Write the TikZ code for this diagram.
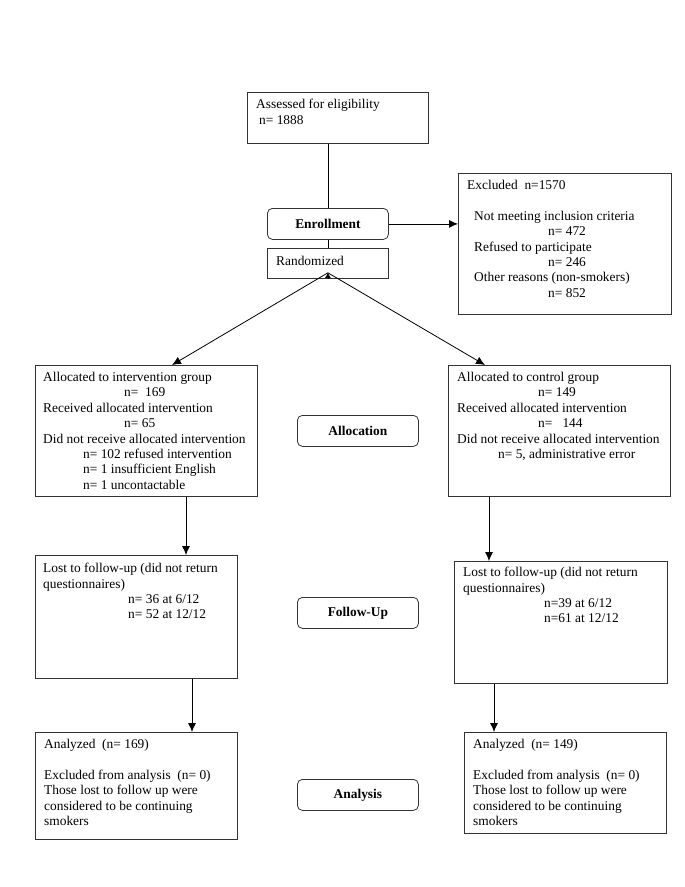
\documentclass[tikz,border=0pt]{standalone}
\usepackage{fontspec}
\setmainfont{Liberation Serif}
\usetikzlibrary{arrows.meta}
\tikzset{
  box/.style={draw=black!80, line width=0.8pt, rectangle, inner sep=0pt, anchor=north west},
  stagebox/.style={draw=black!80, line width=0.8pt, rectangle, rounded corners=5pt, inner sep=0pt, anchor=north west, minimum width=121pt, minimum height=31pt, font=\fontsize{13.4}{15.4}\selectfont\bfseries},
  txt/.style={inner sep=0pt, anchor=north west, align=left, font=\fontsize{13.4}{15.4}\selectfont},
  conn/.style={line width=0.8pt, black},
  arr/.style={conn, -{Latex[length=9pt,width=8pt]}},
}
\begin{document}
\begin{tikzpicture}[x=1pt,y=-1pt]
\useasboundingbox (0,0) rectangle (685,887);
\fill[white] (0,0) rectangle (685,887);

% boxes
\node[box, minimum width=181pt, minimum height=51pt] (assess) at (247,92) {};
\node[txt] (assesst) at (256,99) {Assessed for eligibility\\\hspace*{3pt}n= 1888};

\node[stagebox] (enroll) at (267,208) {Enrollment};
\node[box, minimum width=121pt, minimum height=30pt] (rand) at (267,248) {};
\node[txt] (randt) at (276,256) {Randomized};

\node[box, minimum width=213pt, minimum height=141pt] (excl) at (458,173) {};
\node[txt] (exclt) at (467,180) {Excluded~~n=1570\\[15.4pt]
\hspace*{7pt}Not meeting inclusion criteria\\
\hspace*{81pt}n= 472\\
\hspace*{7pt}Refused to participate\\
\hspace*{81pt}n= 246\\
\hspace*{7pt}Other reasons (non-smokers)\\
\hspace*{81pt}n= 852};

\node[box, minimum width=222pt, minimum height=131pt] (alloc1) at (35,365) {};
\node[txt] (alloc1t) at (43,372) {Allocated to intervention group\\
\hspace*{81pt}n=~~169\\
Received allocated intervention\\
\hspace*{81pt}n= 65\\
Did not receive allocated intervention\\
\hspace*{40pt}n= 102 refused intervention\\
\hspace*{40pt}n= 1 insufficient English\\
\hspace*{40pt}n= 1 uncontactable};

\node[box, minimum width=222pt, minimum height=131pt] (alloc2) at (448,365) {};
\node[txt] (alloc2t) at (457,372) {Allocated to control group\\
\hspace*{81pt}n= 149\\
Received allocated intervention\\
\hspace*{81pt}n=~~~144\\
Did not receive allocated intervention\\
\hspace*{41pt}n= 5, administrative error};

\node[stagebox] (allocs) at (297,415) {Allocation};

\node[box, minimum width=202pt, minimum height=123pt] (lost1) at (35,555) {};
\node[txt] (lost1t) at (43,563) {Lost to follow-up (did not return\\
questionnaires)\\
\hspace*{85pt}n= 36 at 6/12\\
\hspace*{85pt}n= 52 at 12/12};

\node[box, minimum width=213pt, minimum height=122pt] (lost2) at (454,561) {};
\node[txt] (lost2t) at (463,567) {Lost to follow-up (did not return\\
questionnaires)\\
\hspace*{81pt}n=39 at 6/12\\
\hspace*{81pt}n=61 at 12/12};

\node[stagebox] (follows) at (297,597) {Follow-Up};

\node[box, minimum width=202pt, minimum height=107pt] (ana1) at (35,732) {};
\node[txt] (ana1t) at (44,739) {Analyzed~~(n= 169)\\[15.4pt]
Excluded from analysis~~(n= 0)\\
Those lost to follow up were\\
considered to be continuing\\
smokers};

\node[box, minimum width=202pt, minimum height=101pt] (ana2) at (464,732) {};
\node[txt] (ana2t) at (473,739) {Analyzed~~(n= 149)\\[15.4pt]
Excluded from analysis~~(n= 0)\\
Those lost to follow up were\\
considered to be continuing\\
smokers};

\node[stagebox] (anas) at (297,779) {Analysis};

% connectors
\draw[conn] (enroll.north |- assess.south) -- (enroll.north);
\draw[arr] (enroll.east) -- (enroll.east -| excl.west);
\draw[conn] (enroll.south) -- (rand.north);
\coordinate (apex) at ([yshift=6pt]rand.south);
\draw[conn, -{Latex[length=5pt,width=6pt]}] (rand.south) -- (apex);
\draw[arr] (apex) -- ([xshift=137pt]alloc1.north west);
\draw[arr] (apex) -- ([xshift=37pt]alloc2.north west);
\draw[arr] ([xshift=151pt]alloc1.south west) -- ([xshift=151pt]lost1.north west);
\draw[arr] ([xshift=157pt]lost1.south west) -- ([xshift=157pt]ana1.north west);
\draw[arr] ([xshift=41pt]alloc2.south west) -- ([xshift=35pt]lost2.north west);
\draw[arr] ([xshift=40pt]lost2.south west) -- ([xshift=30pt]ana2.north west);
\end{tikzpicture}
\end{document}
